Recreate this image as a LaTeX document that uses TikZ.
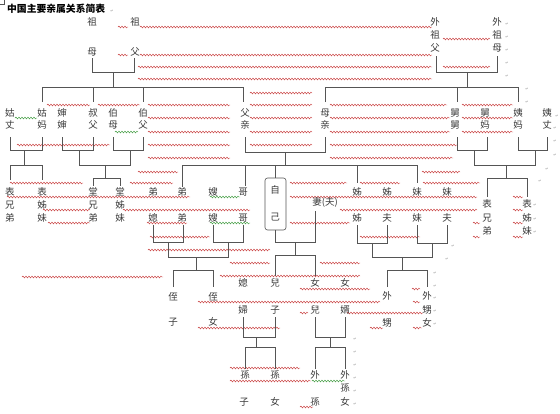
\documentclass[tikz,border=0pt]{standalone}
\usepackage{fontspec}
\newfontfamily\cjk{Noto Sans CJK SC}
\newfontfamily\markfont{DejaVu Sans}
\usetikzlibrary{decorations.pathmorphing}
\definecolor{txt}{HTML}{3A3A3A}
\definecolor{lin}{HTML}{555555}
\definecolor{wred}{HTML}{C83C3C}
\definecolor{wgrn}{HTML}{3C9A3C}
\definecolor{pm}{HTML}{9A9A9A}
\tikzset{
  ch/.style={inner sep=0pt, text=txt, font=\cjk\fontsize{9.5}{10}\selectfont},
  br/.style={draw=lin, line width=0.6pt},
  wv/.style={draw=wred, line width=0.45pt, decorate, decoration={snake, amplitude=0.9pt, segment length=3pt}},
  wg/.style={draw=wgrn, line width=0.45pt, decorate, decoration={snake, amplitude=0.9pt, segment length=3pt}},
  pmark/.style={inner sep=0pt, text=pm, font=\markfont\fontsize{4}{4}\selectfont}
}
\newcommand\kc[4]{\node[ch] (#1) at (#2,#3) {#4};}
\newcommand\wvr[3]{\draw[wv] (#2,#1) -- (#3,#1);}
\newcommand\wvg[3]{\draw[wg] (#2,#1) -- (#3,#1);}
\newcommand\pmk[3]{\node[pmark] (#1) at (#2,#3) {↵};}
\begin{document}
\begin{tikzpicture}[x=1pt,y=-1pt]
\useasboundingbox[fill=white] (0,0) rectangle (560,413);
% corner mark
\draw[lin, line width=0.4pt] (0,4) -- (4,4) -- (4,0);
% title
\node[anchor=west, inner sep=0pt, font=\cjk\bfseries\fontsize{9.8}{10}\selectfont] (title) at (7,9) {中国主要亲属关系简表};
\pmk{pm0}{112}{11}

% ---------------- red / green wavy underlines ----------------
\wvr{27}{118}{128} \wvr{27}{140}{432}
\wvr{39}{443}{490}
\wvr{55}{118}{128} \wvr{55}{140}{432}
\wvr{67}{138}{432} \wvr{67}{443}{490}
\wvr{79}{138}{432}
\wvr{93}{250}{312}
\wvr{105}{47}{90} \wvr{105}{98}{140} \wvr{105}{148}{230} \wvr{105}{250}{312} \wvr{105}{330}{447} \wvr{105}{462}{513}
\wvg{118}{15}{37} \wvr{118}{148}{230} \wvr{118}{250}{312} \wvr{118}{330}{450} \wvr{118}{462}{513}
\wvg{132}{115}{138} \wvr{132}{148}{230} \wvr{132}{250}{312} \wvr{132}{330}{450} \wvr{132}{462}{513}
\wvr{145}{17}{110} \wvr{145}{148}{230} \wvr{145}{250}{312} \wvr{145}{330}{457}
\wvr{158}{148}{230} \wvr{158}{330}{453}
\wvr{172}{138}{178} \wvr{172}{422}{460}
\wvr{183}{10}{83} \wvr{183}{130}{173} \wvr{183}{290}{347} \wvr{183}{360}{400} \wvr{183}{423}{480}
\wvr{197}{7}{190} \wvg{197}{210}{240} \wvr{197}{290}{477} \wvr{197}{513}{523}
\wvr{210}{43}{90} \wvr{210}{123}{250} \wvr{210}{340}{477} \wvr{210}{513}{523}
\wvr{223}{48}{90} \wvr{223}{147}{187} \wvg{223}{210}{250} \wvr{223}{290}{350} \wvr{223}{473}{480} \wvr{223}{513}{523}
\wvr{237}{150}{210} \wvr{237}{360}{420} \wvr{237}{473}{480} \wvr{237}{513}{523}
\wvr{250}{148}{270}
\wvr{263}{230}{270} \wvr{263}{320}{360}
\wvr{277}{22}{163} \wvr{276}{220}{360}
\wvr{289}{300}{370} \wvr{289}{412}{420}
\wvr{302}{198}{380} \wvr{302}{413}{420}
\wvr{313}{300}{308} \wvr{313}{347}{423}
\wvr{328}{198}{280} \wvr{328}{370}{383} \wvr{328}{413}{422}
\wvr{368}{230}{300}
\wvr{381}{230}{311} \wvg{381}{312}{345}
\wvr{407}{300}{313}

% ---------------- bracket lines ----------------
% grandparents (paternal)
\draw[br] (92,58) -- (92,72) -- (134,72) -- (134,58);
\draw[br] (113,72) -- (113,87);
\draw[br] (42,102) -- (42,87) -- (243,87) -- (243,102);
\draw[br] (93,87) -- (93,102); \draw[br] (143,87) -- (143,102);
% grandparents (maternal)
\draw[br] (436,56) -- (436,72) -- (497,72) -- (497,56);
\draw[br] (467,72) -- (467,87);
\draw[br] (325,102) -- (325,87) -- (518,87) -- (518,102);
\draw[br] (457,87) -- (457,102);
% aunt & husband
\draw[br] (10,137) -- (10,150) -- (42,150) -- (42,137);
\draw[br] (24,150) -- (24,165);
\draw[br] (10,180) -- (10,165) -- (42,165) -- (42,180);
% uncles
\draw[br] (62,137) -- (62,150) -- (93,150) -- (93,137);
\draw[br] (113,137) -- (113,150) -- (143,150) -- (143,137);
\draw[br] (79,150) -- (79,165) -- (130,165) -- (130,150);
\draw[br] (105,165) -- (105,178);
\draw[br] (93,186) -- (93,178) -- (120,178) -- (120,186);
% parents
\draw[br] (245,137) -- (245,152) -- (325,152) -- (325,137);
\draw[br] (285,152) -- (285,165);
\draw[br] (182,187) -- (182,165) -- (417,165) -- (417,183);
\draw[br] (245,165) -- (245,186); \draw[br] (357,165) -- (357,183);
\draw[br] (275,165) -- (275,178);
% self box
\draw[br, rounded corners=2.5pt] (265,178) rectangle (286,230);
% self & spouse
\draw[br] (275,230) -- (275,242) -- (315,242) -- (315,211);
\draw[br] (295,242) -- (295,255);
\draw[br] (275,276) -- (275,255) -- (315,255) -- (315,276);
% brothers
\draw[br] (153,225) -- (153,242) -- (183,242) -- (183,225);
\draw[br] (213,225) -- (213,242) -- (243,242) -- (243,225);
\draw[br] (168,242) -- (168,257) -- (228,257) -- (228,242);
\draw[br] (196,257) -- (196,270);
\draw[br] (173,287) -- (173,270) -- (213,270) -- (213,287);
% sisters
\draw[br] (357,225) -- (357,243) -- (387,243) -- (387,225);
\draw[br] (417,225) -- (417,243) -- (447,243) -- (447,225);
\draw[br] (372,243) -- (372,257) -- (432,257) -- (432,243);
\draw[br] (402,257) -- (402,270);
\draw[br] (387,287) -- (387,270) -- (427,270) -- (427,287);
% maternal uncle / aunt
\draw[br] (457,137) -- (457,150) -- (487,150) -- (487,137);
\draw[br] (518,137) -- (518,150) -- (547,150) -- (547,137);
\draw[br] (474,150) -- (474,165) -- (535,165) -- (535,150);
\draw[br] (506,165) -- (506,178);
\draw[br] (487,197) -- (487,178) -- (527,178) -- (527,197);
% son & daughter-in-law
\draw[br] (243,317) -- (243,337) -- (275,337) -- (275,317);
\draw[br] (256,337) -- (256,347);
\draw[br] (245,369) -- (245,347) -- (275,347) -- (275,369);
% daughter & son-in-law
\draw[br] (315,317) -- (315,337) -- (345,337) -- (345,317);
\draw[br] (330,337) -- (330,347);
\draw[br] (315,369) -- (315,347) -- (345,347) -- (345,369);

% ---------------- characters ----------------
\kc{zm1}{92}{22}{祖} \kc{zm2}{92}{52}{母}
\kc{zf1}{135}{22}{祖} \kc{zf2}{135}{52}{父}
\kc{wf1}{435}{22}{外} \kc{wf2}{435}{35}{祖} \kc{wf3}{435}{48}{父}
\kc{wm1}{497}{22}{外} \kc{wm2}{497}{35}{祖} \kc{wm3}{497}{48}{母}

\kc{gz1}{10}{113}{姑} \kc{gz2}{10}{125}{丈}
\kc{gm1}{42}{113}{姑} \kc{gm2}{42}{125}{妈}
\kc{ss1}{62}{113}{婶} \kc{ss2}{62}{125}{婶}
\kc{sf1}{93}{113}{叔} \kc{sf2}{93}{125}{父}
\kc{bm1}{113}{113}{伯} \kc{bm2}{113}{125}{母}
\kc{bf1}{143}{113}{伯} \kc{bf2}{143}{125}{父}
\kc{fq1}{245}{113}{父} \kc{fq2}{245}{125}{亲}
\kc{mq1}{325}{113}{母} \kc{mq2}{325}{125}{亲}
\kc{jj1}{455}{113}{舅} \kc{jj2}{455}{125}{舅}
\kc{jm1}{485}{113}{舅} \kc{jm2}{485}{125}{妈}
\kc{ym1}{518}{113}{姨} \kc{ym2}{518}{125}{妈}
\kc{yz1}{547}{113}{姨} \kc{yz2}{547}{125}{丈}

\kc{bx1}{10}{192}{表} \kc{bx2}{10}{205}{兄} \kc{bx3}{10}{218}{弟}
\kc{bz1}{42}{192}{表} \kc{bz2}{42}{205}{姊} \kc{bz3}{42}{218}{妹}
\kc{tx1}{93}{192}{堂} \kc{tx2}{93}{205}{兄} \kc{tx3}{93}{218}{弟}
\kc{tz1}{120}{192}{堂} \kc{tz2}{120}{205}{姊} \kc{tz3}{120}{218}{妹}
\kc{dx1}{153}{192}{弟} \kc{dx2}{153}{218}{媳}
\kc{dd1}{182}{192}{弟} \kc{dd2}{182}{218}{弟}
\kc{sa1}{213}{192}{嫂} \kc{sa2}{213}{218}{嫂}
\kc{gg1}{243}{192}{哥} \kc{gg2}{243}{218}{哥}
\kc{zj1}{275}{190}{自} \kc{zj2}{275}{217}{己}
\kc{qf}{325}{202}{妻(夫)}
\kc{jz1}{357}{192}{姊} \kc{jz2}{357}{218}{姊}
\kc{jf1}{387}{192}{姊} \kc{jf2}{387}{218}{夫}
\kc{mm1}{417}{192}{妹} \kc{mm2}{417}{218}{妹}
\kc{mf1}{447}{192}{妹} \kc{mf2}{447}{218}{夫}
\kc{rx1}{487}{204}{表} \kc{rx2}{487}{218}{兄} \kc{rx3}{487}{231}{弟}
\kc{rz1}{527}{204}{表} \kc{rz2}{527}{218}{姊} \kc{rz3}{527}{231}{妹}

\kc{zz1}{173}{297}{侄} \kc{zz2}{173}{322}{子}
\kc{zn1}{213}{297}{侄} \kc{zn2}{213}{322}{女}
\kc{xf1}{243}{283}{媳} \kc{xf2}{243}{310}{婦}
\kc{ez1}{275}{283}{兒} \kc{ez2}{275}{310}{子}
\kc{ne1}{315}{283}{女} \kc{ne2}{315}{310}{兒}
\kc{nx1}{345}{283}{女} \kc{nx2}{345}{310}{婿}
\kc{ws1}{387}{296}{外} \kc{ws2}{387}{323}{甥}
\kc{wn1}{427}{296}{外} \kc{wn2}{427}{310}{甥} \kc{wn3}{427}{323}{女}

\kc{sz1}{245}{375}{孫} \kc{sz2}{244}{402}{子}
\kc{sn1}{275}{375}{孫} \kc{sn2}{275}{402}{女}
\kc{wsz1}{315}{375}{外} \kc{wsz2}{315}{402}{孫}
\kc{wsn1}{345}{375}{外} \kc{wsn2}{345}{388}{孫} \kc{wsn3}{345}{402}{女}

% ---------------- paragraph marks ----------------
\pmk{p1}{507}{24} \pmk{p2}{507}{37} \pmk{p3}{507}{50} \pmk{p4}{507}{63} \pmk{p5}{507}{76}
\pmk{p6}{527}{89} \pmk{p7}{527}{102}
\pmk{p8}{557}{116} \pmk{p9}{555}{128} \pmk{p10}{555}{141} \pmk{p11}{555}{155}
\pmk{p12}{547}{169} \pmk{p13}{540}{181}
\pmk{p14}{535}{205} \pmk{p15}{535}{219} \pmk{p16}{535}{232}
\pmk{p17}{453}{246} \pmk{p18}{447}{259} \pmk{p19}{435}{273} \pmk{p20}{435}{286}
\pmk{p21}{435}{298} \pmk{p22}{435}{311} \pmk{p23}{435}{324}
\pmk{p24}{355}{339} \pmk{p25}{355}{352} \pmk{p26}{355}{365} \pmk{p27}{355}{378} \pmk{p28}{355}{391} \pmk{p29}{355}{404}
\end{tikzpicture}
\end{document}
